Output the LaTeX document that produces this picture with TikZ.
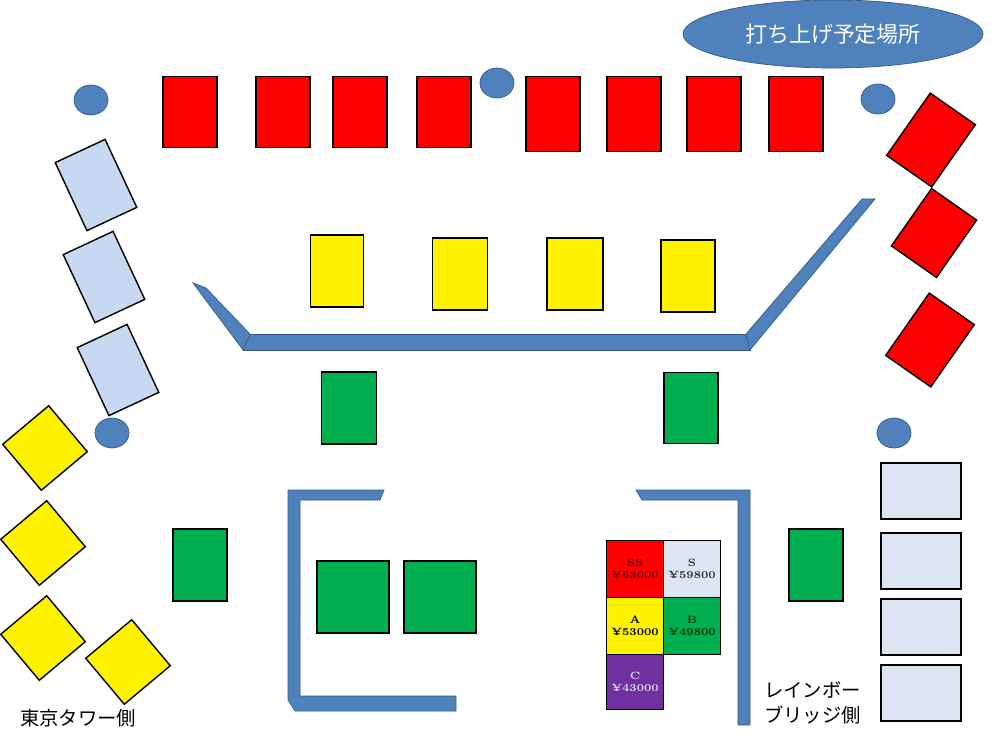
\documentclass[tikz,border=0pt]{standalone}
\usepackage{fontspec}
\usetikzlibrary{shapes.geometric}
\newfontfamily\jp{Noto Sans CJK JP}
\begin{document}
\begin{tikzpicture}[x=0.02cm,y=-0.02cm]
\definecolor{wallc}{HTML}{4F81BD}
\definecolor{lb}{HTML}{C6D9F1}
\definecolor{lb2}{HTML}{DCE6F2}
\definecolor{gr}{HTML}{00B050}
\definecolor{pu}{HTML}{7030A0}
\tikzset{
 wall/.style={fill=wallc,draw=wallc!70!black,line width=0.4pt},
 dot/.style={ellipse,fill=wallc,draw=wallc!70!black,minimum width=34*0.02cm,minimum height=30*0.02cm,inner sep=0pt},
 leg/.style={draw=black,line width=1pt,minimum width=57*0.02cm,minimum height=57*0.02cm,inner sep=0pt,font=\bfseries\fontsize{6}{7}\selectfont,align=center},
 lab/.style={font=\jp\fontsize{11}{14}\selectfont,align=left}
}
\newcommand{\rbox}[6]{\node[draw=black,line width=0.8pt,fill=#1,minimum width=#4*0.02cm,minimum height=#5*0.02cm,inner sep=0pt,rotate=#6] (#2) at #3 {};}
\useasboundingbox (0,0) rectangle (991,743);
% top red
\foreach \x/\n in {190/r1,283/r2,360/r3,444/r4}{\rbox{red}{\n}{(\x,112)}{54}{71}{0}}
\foreach \x/\n in {553/r5,634/r6,714/r7,796/r8}{\rbox{red}{\n}{(\x,114)}{54}{75}{0}}
% right red
\rbox{red}{rr1}{(931,140)}{55}{76}{-35}
\rbox{red}{rr2}{(934,233)}{55}{70}{-35}
\rbox{red}{rr3}{(930,340)}{55}{76}{-35}
% left light blue
\rbox{lb}{lb1}{(96,185)}{55}{75}{25}
\rbox{lb}{lb2}{(104,277)}{55}{75}{25}
\rbox{lb}{lb3}{(118,370)}{55}{75}{25}
% left yellow diamonds
\rbox{yellow}{y1}{(45,448)}{60}{60}{40}
\rbox{yellow}{y2}{(43,543)}{60}{60}{40}
\rbox{yellow}{y3}{(43,638)}{60}{60}{40}
\rbox{yellow}{y4}{(128,662)}{60}{60}{40}
% middle yellow
\rbox{yellow}{m1}{(337,271)}{53}{72}{0}
\rbox{yellow}{m2}{(460,274)}{55}{72}{0}
\rbox{yellow}{m3}{(575,274)}{56}{72}{0}
\rbox{yellow}{m4}{(688,276)}{54}{72}{0}
% green
\rbox{gr}{g1}{(349,408)}{55}{72}{0}
\rbox{gr}{g2}{(691,408)}{54}{71}{0}
\rbox{gr}{g3}{(200,565)}{54}{72}{0}
\rbox{gr}{g4}{(353,597)}{72}{72}{0}
\rbox{gr}{g5}{(440,597)}{72}{72}{0}
\rbox{gr}{g6}{(816,565)}{54}{72}{0}
% right light blue
\foreach \y/\n in {491/b1,561/b2,627/b3,693/b4}{\rbox{lb2}{\n}{(921,\y)}{80}{56}{0}}
% dots
\node[dot] (d1) at (91,100) {};
\node[dot] (d2) at (497,83) {};
\node[dot] (d3) at (878,99) {};
\node[dot] (d4) at (112,433) {};
\node[dot] (d5) at (894,433) {};
% launch ellipse
\node[ellipse,fill=wallc,draw=wallc!70!black,minimum width=300*0.02cm,minimum height=68*0.02cm,text=white,font=\jp\fontsize{12.5}{14}\selectfont] (launch) at (833,34) {打ち上げ予定場所};
% walls
\draw[wall] (243,334) -- (750,334) -- (750,350) -- (243,350) -- cycle;
\draw[wall] (193,283) -- (206,288) -- (250,334) -- (243,350) -- cycle;
\draw[wall] (862,199) -- (875,199) -- (750,350) -- (746,334) -- cycle;
\draw[wall] (288,490) -- (384,490) -- (380,500) -- (300,500) -- (300,696) -- (456,696) -- (456,711) -- (295,711) -- (288,700) -- cycle;
\draw[wall] (636,490) -- (750,490) -- (750,725) -- (738,725) -- (738,500) -- (642,500) -- cycle;
% legend
\node[leg,fill=red,text=red!40!black] (ss) at (635,569) {SS\\¥63000};
\node[leg,fill=lb2,text=black!80] (s) at (692,569) {S\\¥59800};
\node[leg,fill=yellow,text=black] (a) at (635,626) {A\\¥53000};
\node[leg,fill=gr,text=green!20!black] (b) at (692,626) {B\\¥49800};
\node[leg,fill=pu,text=white!80!pu,minimum height=55*0.02cm] (c) at (635,682) {C\\¥43000};
% labels
\node[lab,anchor=west] (tt) at (14,718) {東京タワー側};
\node[lab,anchor=west] (rb) at (758,703) {レインボー\\ブリッジ側};
\end{tikzpicture}
\end{document}
